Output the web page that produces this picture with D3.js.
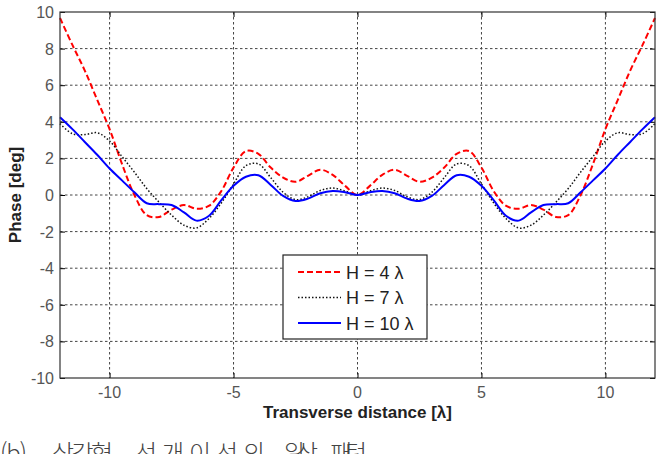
<!DOCTYPE html>
<html lang="ko">
  <head>
    <meta charset="UTF-8" />
    <title>Phase pattern</title>
    <script src="https://d3js.org/d3.v7.min.js"></script>
    <style>
      body {
        margin: 0;
        background: #fff;
      }
      .grid line {
        stroke: #444;
        stroke-dasharray: 2.5, 2.5;
        stroke-width: 1;
      }
      .tick-label {
        font-family: "Liberation Sans", Arial, sans-serif;
        font-size: 16px;
        fill: #555;
      }
      .axis-title {
        font-family: "Liberation Sans", Arial, sans-serif;
        font-size: 17px;
        font-weight: bold;
        fill: #222;
      }
    </style>
  </head>
  <body>
    <svg id="chart" width="665" height="454"></svg>

    <script>
      // transverse positions (λ)
      const xs = [
        -12, -11.5, -11, -10.5, -10, -9.5, -9, -8.5, -8, -7.5, -7, -6.5, -6,
        -5.5, -5, -4.5, -4, -3.5, -3, -2.5, -2, -1.5, -1, -0.5, 0, 0.5, 1, 1.5,
        2, 2.5, 3, 3.5, 4, 4.5, 5, 5.5, 6, 6.5, 7, 7.5, 8, 8.5, 9, 9.5, 10,
        10.5, 11, 11.5, 12,
      ];
      // H = 4 λ
      const h4 = [
        9.67, 8.2, 6.8, 5.2, 3.6, 1.7, 0.0, -1.1, -1.2, -0.8, -0.55, -0.75,
        -0.6, 0.2, 1.5, 2.4, 2.25, 1.5, 0.95, 0.72, 1.05, 1.38, 1.1, 0.5, 0,
        0.5, 1.1, 1.38, 1.05, 0.72, 0.95, 1.5, 2.25, 2.4, 1.5, 0.2, -0.6,
        -0.75, -0.55, -0.8, -1.2, -1.1, 0.0, 1.7, 3.6, 5.2, 6.8, 8.2, 9.67,
      ];
      // H = 7 λ
      const h7 = [
        3.9, 3.35, 3.3, 3.4, 2.95, 2.1, 1.25, 0.35, -0.4, -1.1, -1.65, -1.8,
        -1.3, -0.45, 0.6, 1.6, 1.7, 0.95, 0.15, -0.25, -0.1, 0.25, 0.38, 0.22,
        0, 0.22, 0.38, 0.25, -0.1, -0.25, 0.15, 0.95, 1.7, 1.6, 0.6, -0.45,
        -1.3, -1.8, -1.65, -1.1, -0.4, 0.35, 1.25, 2.1, 2.95, 3.4, 3.3, 3.35,
        3.9,
      ];
      // H = 10 λ
      const h10 = [
        4.25, 3.6, 2.9, 2.2, 1.45, 0.8, 0.15, -0.45, -0.5, -0.55, -0.95, -1.4,
        -1.15, -0.3, 0.5, 1.0, 1.08, 0.55, -0.05, -0.33, -0.2, 0.1, 0.22, 0.15,
        0, 0.15, 0.22, 0.1, -0.2, -0.33, -0.05, 0.55, 1.08, 1.0, 0.5, -0.3,
        -1.15, -1.4, -0.95, -0.55, -0.5, -0.45, 0.15, 0.8, 1.45, 2.2, 2.9, 3.6,
        4.25,
      ];
      const xTicks = [-10, -5, 0, 5, 10];
      const yTicks = [-10, -8, -6, -4, -2, 0, 2, 4, 6, 8, 10];
      const seriesNames = ["H = 4 λ", "H = 7 λ", "H = 10 λ"];
      const captionWords = ["(b)", "삼각형", "선개이선의", "위상", "패턴"];

      const series = [
        { name: seriesNames[0], values: h4, color: "#ff0000", dash: "6,3", w: 2 },
        { name: seriesNames[1], values: h7, color: "#111", dash: "1.5,2", w: 1.5 },
        { name: seriesNames[2], values: h10, color: "#0000ff", dash: null, w: 2 },
      ];

      const svg = d3.select("#chart");
      const plot = { left: 60, right: 655, top: 12, bottom: 378 };

      const x = d3.scaleLinear().domain([-12, 12]).range([plot.left, plot.right]);
      const y = d3.scaleLinear().domain([-10, 10]).range([plot.bottom, plot.top]);

      // grid
      const grid = svg.append("g").attr("class", "grid");
      grid
        .selectAll(".gx")
        .data(xTicks)
        .join("line")
        .attr("x1", (d) => x(d))
        .attr("x2", (d) => x(d))
        .attr("y1", plot.top)
        .attr("y2", plot.bottom);
      grid
        .selectAll(".gy")
        .data(yTicks.filter((d) => d > -10 && d < 10))
        .join("line")
        .attr("x1", plot.left)
        .attr("x2", plot.right)
        .attr("y1", (d) => y(d))
        .attr("y2", (d) => y(d));

      // axes with inner ticks, mirrored on top/right like matlab
      const tk = -5;
      svg
        .append("g")
        .attr("transform", `translate(0,${plot.bottom})`)
        .call(d3.axisBottom(x).tickValues(xTicks).tickSize(tk).tickFormat(""))
        .call((g) => g.select(".domain").remove());
      svg
        .append("g")
        .attr("transform", `translate(0,${plot.top})`)
        .call(d3.axisTop(x).tickValues(xTicks).tickSize(tk).tickFormat(""))
        .call((g) => g.select(".domain").remove());
      svg
        .append("g")
        .attr("transform", `translate(${plot.left},0)`)
        .call(d3.axisLeft(y).tickValues(yTicks).tickSize(tk).tickFormat(""))
        .call((g) => g.select(".domain").remove());
      svg
        .append("g")
        .attr("transform", `translate(${plot.right},0)`)
        .call(d3.axisRight(y).tickValues(yTicks).tickSize(tk).tickFormat(""))
        .call((g) => g.select(".domain").remove());

      // tick labels
      svg
        .selectAll(".xl")
        .data(xTicks)
        .join("text")
        .attr("class", "tick-label")
        .attr("x", (d) => x(d))
        .attr("y", 398)
        .attr("text-anchor", "middle")
        .text((d) => d);
      svg
        .selectAll(".yl")
        .data(yTicks)
        .join("text")
        .attr("class", "tick-label")
        .attr("x", 54)
        .attr("y", (d) => y(d) + 6)
        .attr("text-anchor", "end")
        .text((d) => d);

      // curves
      const line = (vals) =>
        d3
          .line()
          .x((d, i) => x(xs[i]))
          .y((d) => y(d))
          .curve(d3.curveCatmullRom)(vals);

      series.forEach((s) => {
        svg
          .append("path")
          .attr("d", line(s.values))
          .attr("fill", "none")
          .attr("stroke", s.color)
          .attr("stroke-width", s.w)
          .attr("stroke-dasharray", s.dash);
      });

      // frame
      svg
        .append("rect")
        .attr("x", plot.left)
        .attr("y", plot.top)
        .attr("width", plot.right - plot.left)
        .attr("height", plot.bottom - plot.top)
        .attr("fill", "none")
        .attr("stroke", "#333")
        .attr("stroke-width", 1.2);

      // legend
      const lg = svg.append("g").attr("transform", "translate(283,255)");
      lg.append("rect")
        .attr("width", 144)
        .attr("height", 84)
        .attr("fill", "#fff")
        .attr("stroke", "#222")
        .attr("stroke-width", 1.2);
      series.forEach((s, i) => {
        const ry = 17 + i * 25.5;
        lg.append("line")
          .attr("x1", 15)
          .attr("x2", 58)
          .attr("y1", ry)
          .attr("y2", ry)
          .attr("stroke", s.color)
          .attr("stroke-width", s.w)
          .attr("stroke-dasharray", s.dash);
        lg.append("text")
          .attr("x", 63)
          .attr("y", ry + 6.5)
          .attr("font-family", "Liberation Sans, Arial, sans-serif")
          .attr("font-size", 18)
          .attr("fill", "#222")
          .text(s.name);
      });

      // axis titles
      svg
        .append("text")
        .attr("class", "axis-title")
        .attr("x", (plot.left + plot.right) / 2)
        .attr("y", 418)
        .attr("text-anchor", "middle")
        .text("Transverse distance [λ]");
      svg
        .append("text")
        .attr("class", "axis-title")
        .attr("transform", `translate(21,${(plot.top + plot.bottom) / 2}) rotate(-90)`)
        .attr("text-anchor", "middle")
        .text("Phase [deg]");

      // caption (cut off by the page edge in the original), one word per span
      const capX = [0, 52, 135, 283, 330];
      const capW = [27, 61, 130, 35, 37];
      const cap = svg
        .append("text")
        .attr("y", 462)
        .attr("font-family", "Noto Sans CJK KR, sans-serif")
        .attr("font-size", 24)
        .attr("font-weight", 300)
        .attr("fill", "#444");
      captionWords.forEach((w, i) => {
        cap
          .append("tspan")
          .attr("x", capX[i])
          .attr("textLength", capW[i])
          .attr("lengthAdjust", "spacing")
          .text(w);
      });
    </script>
  </body>
</html>
